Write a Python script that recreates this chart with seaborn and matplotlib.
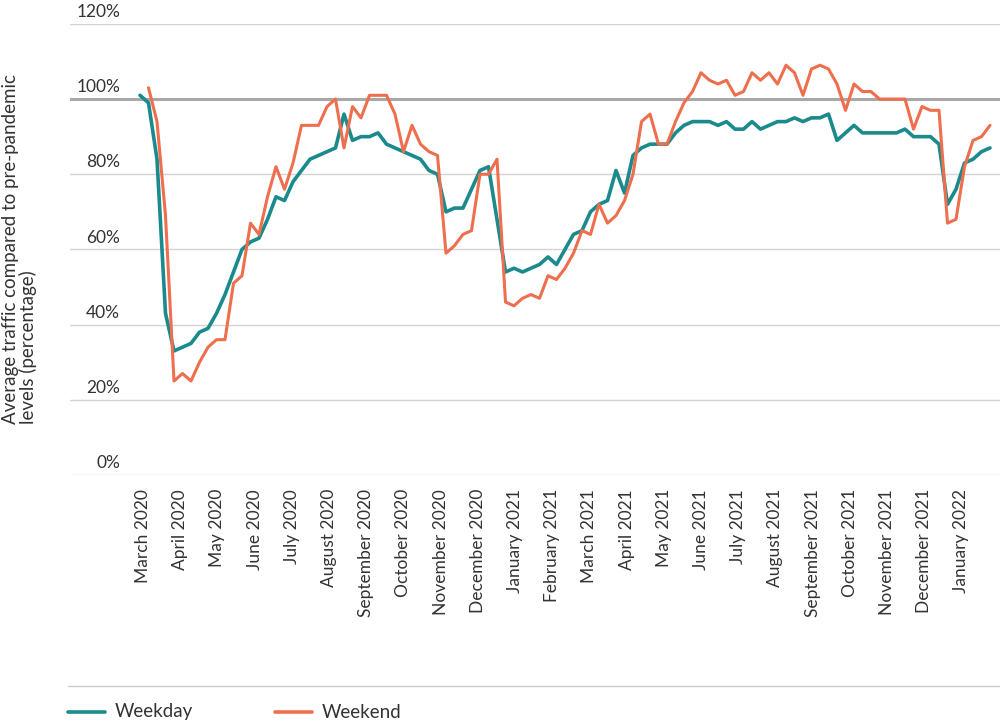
import matplotlib
matplotlib.use("Agg")
import matplotlib.pyplot as plt
import seaborn as sns
import pandas as pd
import numpy as np

months = ["March 2020","April 2020","May 2020","June 2020","July 2020","August 2020",
          "September 2020","October 2020","November 2020","December 2020","January 2021",
          "February 2021","March 2021","April 2021","May 2021","June 2021","July 2021",
          "August 2021","September 2021","October 2021","November 2021","December 2021",
          "January 2022"]

weekday = [101,99,84,43,33,34,35,38,39,43,48,54,60,62,63,68,74,73,78,81,84,85,86,87,96,89,
           90,90,91,88,87,86,85,84,81,80,70,71,71,76,81,82,68,54,55,54,55,56,58,56,60,64,
           65,70,72,73,81,75,85,87,88,88,88,91,93,94,94,94,93,94,92,92,94,92,93,94,94,95,
           94,95,95,96,89,91,93,91,91,91,91,91,92,90,90,90,88,72,76,83,84,86,87]

weekend = [103,94,69,25,27,25,30,34,36,36,51,53,67,64,74,82,76,83,93,93,93,98,100,87,98,95,
           101,101,101,96,86,93,88,86,85,59,61,64,65,80,80,84,46,45,47,48,47,53,52,55,59,65,
           64,72,67,69,73,80,94,96,88,88,94,99,102,107,105,104,105,101,102,107,105,107,104,
           109,107,101,108,109,108,104,97,104,102,102,100,100,100,100,92,98,97,97,67,68,82,
           89,90,93]

teal = "#1b8a8c"
orange = "#ee6e4e"
txt = "#333333"

sns.set_theme(style="white")
plt.rcParams["font.family"] = ["Lato", "DejaVu Sans"]

fig = plt.figure(figsize=(10, 7.23), dpi=100)
ax = fig.add_axes([0.07, 0.343, 0.93, 0.624])

step = 8.5
dfw = pd.DataFrame({"x": np.arange(len(weekday)), "v": weekday})
dfe = pd.DataFrame({"x": np.arange(len(weekend)) + 1, "v": weekend})
sns.lineplot(data=dfw, x="x", y="v", color=teal, lw=2.6, ax=ax)
sns.lineplot(data=dfe, x="x", y="v", color=orange, lw=2.2, ax=ax)

ax.set_xlim((70 - 140) / step, (1000 - 140) / step)
ax.set_ylim(0, 120)
for v in range(0, 121, 20):
    ax.axhline(v, color="#a8a8a8" if v == 100 else "#d4d4d4",
               lw=2.2 if v == 100 else 1.0, zorder=0)
    ax.text(50 / 930, v + 1, f"{v}%", transform=ax.get_yaxis_transform(),
            ha="right", va="bottom", fontsize=12.5, color=txt)
ax.set_yticks([])
ticks = [(143 + 37.2 * i - 140) / step for i in range(len(months))]
ax.set_xticks(ticks)
ax.set_xticklabels(months, rotation=90, fontsize=12.5, color=txt)
ax.tick_params(axis="x", length=0, pad=10)
ax.set_xlabel("")
ax.set_ylabel("")
for s in ax.spines.values():
    s.set_visible(False)

fig.text(0.002, 0.655, "Average traffic compared to pre-pandemic\nlevels (percentage)",
         rotation=90, ha="left", va="center", fontsize=13.5, color=txt,
         linespacing=1.0)

# separator and legend
fig.add_artist(plt.Line2D([0.068, 1.0], [1 - 686 / 723] * 2, color="#cccccc", lw=1))
y = 1 - 712 / 723
fig.add_artist(plt.Line2D([0.068, 0.105], [y, y], color=teal, lw=2.6))
fig.text(0.115, y, "Weekday", va="center", fontsize=13.5, color=txt)
fig.add_artist(plt.Line2D([0.275, 0.312], [y, y], color=orange, lw=2.6))
fig.text(0.322, y, "Weekend", va="center", fontsize=13.5, color=txt)

fig.savefig("out.png", dpi=100)
